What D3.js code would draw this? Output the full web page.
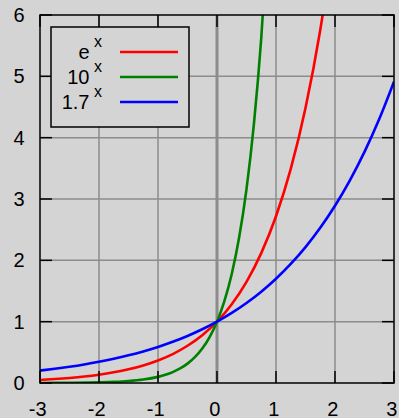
<!DOCTYPE html>
<html>
<head>
<meta charset="utf-8">
<script src="https://d3js.org/d3.v7.min.js"></script>
<style>
  body { margin: 0; background: #d4d4d4; }
  text { font-family: "Liberation Sans", Arial, sans-serif; font-size: 20px; fill: #000; }
</style>
</head>
<body>
<div id="chart"></div>
<script>
// tick values
var xTicks = [-3, -2, -1, 0, 1, 2, 3];
var yTicks = [0, 1, 2, 3, 4, 5, 6];

// e^x
var expX = [-3, -2.75, -2.5, -2.25, -2, -1.75, -1.5, -1.25, -1, -0.75, -0.5, -0.25, 0, 0.25, 0.5, 0.75, 1, 1.25, 1.5, 1.75, 2];
var expY = [0.050, 0.064, 0.082, 0.105, 0.135, 0.174, 0.223, 0.287, 0.368, 0.472, 0.607, 0.779, 1, 1.284, 1.649, 2.117, 2.718, 3.490, 4.482, 5.755, 7.389];

// 10^x
var tenX = [-3, -2.5, -2, -1.75, -1.5, -1.25, -1, -0.875, -0.75, -0.625, -0.5, -0.375, -0.25, -0.125, 0, 0.125, 0.25, 0.375, 0.5, 0.625, 0.75, 0.875];
var tenY = [0.001, 0.0032, 0.01, 0.0178, 0.0316, 0.0562, 0.1, 0.1334, 0.1778, 0.2371, 0.3162, 0.4217, 0.5623, 0.7499, 1, 1.3335, 1.7783, 2.3714, 3.1623, 4.2170, 5.6234, 7.4989];

// 1.7^x
var b17X = [-3, -2.75, -2.5, -2.25, -2, -1.75, -1.5, -1.25, -1, -0.75, -0.5, -0.25, 0, 0.25, 0.5, 0.75, 1, 1.25, 1.5, 1.75, 2, 2.25, 2.5, 2.75, 3];
var b17Y = [0.2035, 0.2324, 0.2654, 0.3030, 0.3460, 0.3951, 0.4512, 0.5152, 0.5882, 0.6717, 0.7670, 0.8757, 1, 1.1419, 1.3038, 1.4889, 1.7, 1.9412, 2.2165, 2.5311, 2.89, 3.300, 3.768, 4.303, 4.913];

var series = [
  { base: "e", xs: expX, ys: expY, color: "#ff0000" },
  { base: "10", xs: tenX, ys: tenY, color: "#008000" },
  { base: "1.7", xs: b17X, ys: b17Y, color: "#0000ff" }
];

var width = 399, height = 418;
var pLeft = 40, pRight = 394, pTop = 15, pBottom = 383;

var svg = d3.select("#chart").append("svg")
    .attr("width", width)
    .attr("height", height);

svg.append("rect").attr("width", width).attr("height", height).attr("fill", "#d4d4d4");

var x = d3.scaleLinear().domain([-3, 3]).range([pLeft, pRight]);
var y = d3.scaleLinear().domain([0, 6]).range([pBottom, pTop]);

// grid
svg.append("g").selectAll("line")
    .data(xTicks.filter(function(d) { return d > -3 && d < 3; }))
    .enter().append("line")
    .attr("x1", function(d) { return x(d); })
    .attr("x2", function(d) { return x(d); })
    .attr("y1", pTop).attr("y2", pBottom)
    .attr("stroke", "#8c8c8c")
    .attr("stroke-width", function(d) { return d === 0 ? 3 : 1.5; });

svg.append("g").selectAll("line")
    .data(yTicks.filter(function(d) { return d > 0 && d < 6; }))
    .enter().append("line")
    .attr("y1", function(d) { return y(d); })
    .attr("y2", function(d) { return y(d); })
    .attr("x1", pLeft).attr("x2", pRight)
    .attr("stroke", "#8c8c8c")
    .attr("stroke-width", 1.5);

// curves
svg.append("clipPath").attr("id", "clip")
  .append("rect").attr("x", pLeft).attr("y", pTop)
    .attr("width", pRight - pLeft).attr("height", pBottom - pTop);

var line = d3.line()
    .x(function(d) { return x(d[0]); })
    .y(function(d) { return y(d[1]); })
    .curve(d3.curveMonotoneX);

svg.append("g").attr("clip-path", "url(#clip)")
  .selectAll("path")
  .data(series)
  .enter().append("path")
    .attr("d", function(s) { return line(d3.zip(s.xs, s.ys)); })
    .attr("fill", "none")
    .attr("stroke", function(s) { return s.color; })
    .attr("stroke-width", 2.6);

// border
svg.append("rect")
    .attr("x", pLeft).attr("y", pTop)
    .attr("width", pRight - pLeft).attr("height", pBottom - pTop)
    .attr("fill", "none").attr("stroke", "#000").attr("stroke-width", 1.5);

// tick marks on all four sides, pointing inward
var tk = 12;
var ticks = svg.append("g").attr("stroke", "#000").attr("stroke-width", 1.5);
xTicks.forEach(function(d) {
  ticks.append("line").attr("x1", x(d)).attr("x2", x(d)).attr("y1", pBottom).attr("y2", pBottom - tk);
  ticks.append("line").attr("x1", x(d)).attr("x2", x(d)).attr("y1", pTop).attr("y2", pTop + tk);
});
yTicks.forEach(function(d) {
  ticks.append("line").attr("y1", y(d)).attr("y2", y(d)).attr("x1", pLeft).attr("x2", pLeft + tk);
  ticks.append("line").attr("y1", y(d)).attr("y2", y(d)).attr("x1", pRight).attr("x2", pRight - tk);
});

// tick labels
svg.append("g").selectAll("text")
    .data(xTicks)
    .enter().append("text")
    .attr("x", function(d) { return x(d) - 2.3; })
    .attr("y", 415.5)
    .attr("text-anchor", "middle")
    .text(function(d) { return d; });

svg.append("g").selectAll("text")
    .data(yTicks)
    .enter().append("text")
    .attr("x", 24.5)
    .attr("y", function(d) { return y(d) + 7; })
    .attr("text-anchor", "end")
    .text(function(d) { return d; });

// legend
var legend = svg.append("g");
legend.append("rect")
    .attr("x", 51).attr("y", 27).attr("width", 138).attr("height", 100)
    .attr("fill", "#d4d4d4").attr("stroke", "#000").attr("stroke-width", 1.5);

series.forEach(function(s, i) {
  var ly = 52 + i * 25;
  legend.append("text")
      .attr("x", 89.5).attr("y", ly + 6.5)
      .attr("text-anchor", "end")
      .text(s.base);
  legend.append("text")
      .attr("x", 94).attr("y", ly - 5)
      .style("font-size", "16px")
      .text("x");
  legend.append("line")
      .attr("x1", 120).attr("x2", 178)
      .attr("y1", ly).attr("y2", ly)
      .attr("stroke", s.color).attr("stroke-width", 2.6);
});
</script>
</body>
</html>
